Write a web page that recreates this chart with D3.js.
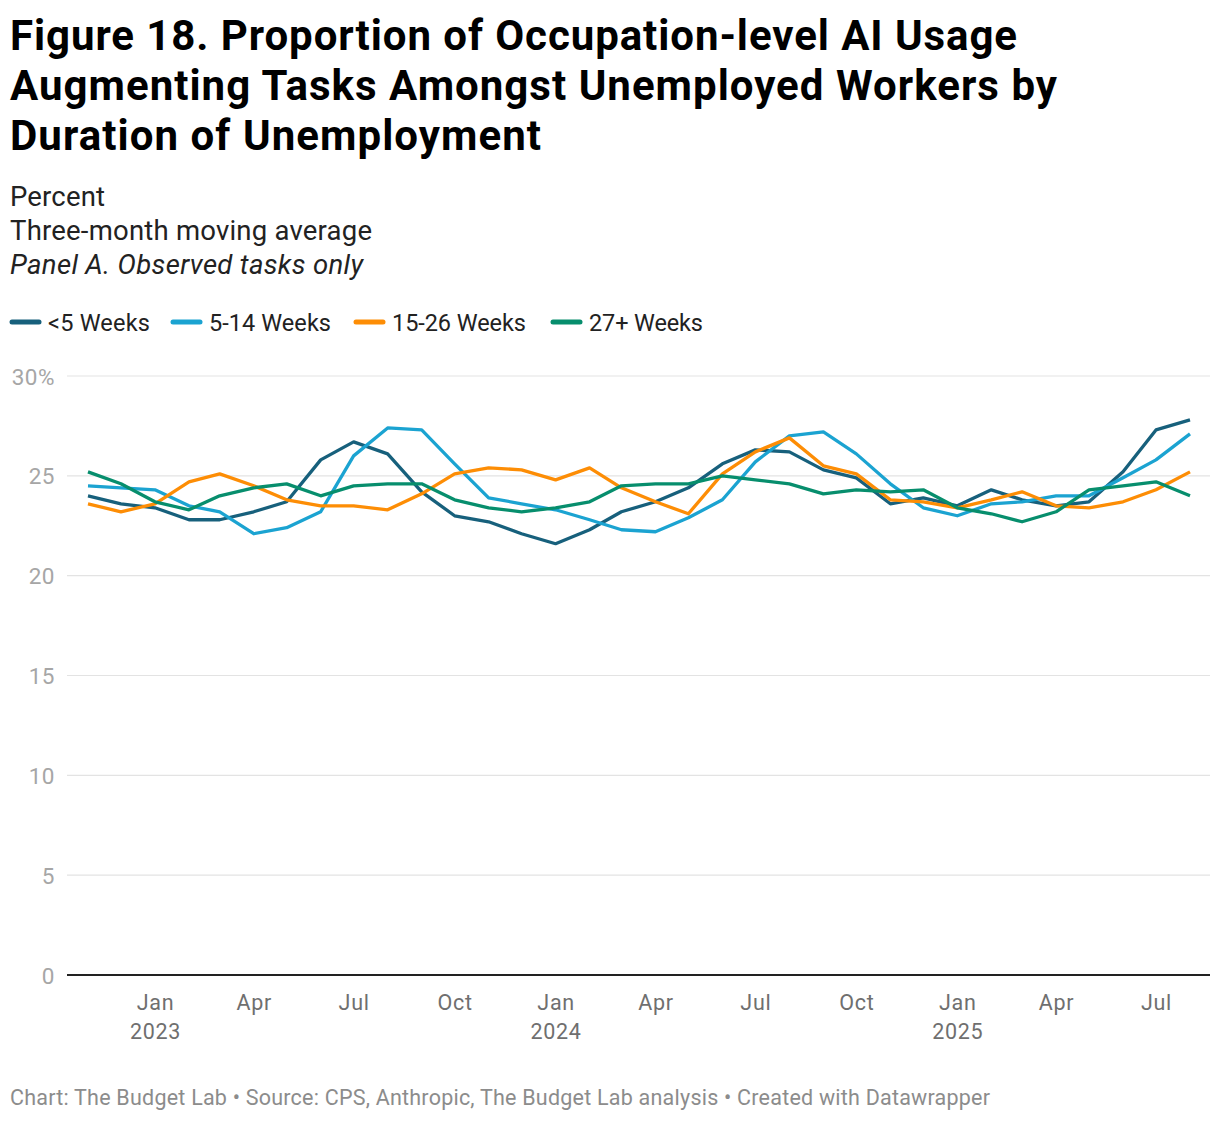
<!DOCTYPE html>
<html>
<head>
<meta charset="utf-8">
<script src="https://cdn.jsdelivr.net/npm/d3@7"></script>
<style>
  body { margin: 0; background: #fff; font-family: Roboto, "Noto Sans", sans-serif; }
  .tick line { display: none; }
  .domain { display: none; }
</style>
</head>
<body>
<div id="chart"></div>
<script>
// data (three-month moving average, percent)
var months = ["2022-11","2022-12","2023-01","2023-02","2023-03","2023-04","2023-05","2023-06",
  "2023-07","2023-08","2023-09","2023-10","2023-11","2023-12","2024-01","2024-02","2024-03",
  "2024-04","2024-05","2024-06","2024-07","2024-08","2024-09","2024-10","2024-11","2024-12",
  "2025-01","2025-02","2025-03","2025-04","2025-05","2025-06","2025-07","2025-08"];

var under5 = [24.0,23.6,23.4,22.8,22.8,23.2,23.7,25.8,26.7,26.1,24.2,23.0,22.7,22.1,21.6,22.3,
  23.2,23.7,24.4,25.6,26.3,26.2,25.3,24.9,23.6,23.9,23.5,24.3,23.8,23.5,23.7,25.2,27.3,27.8];
var w5to14 = [24.5,24.4,24.3,23.5,23.2,22.1,22.4,23.2,26.0,27.4,27.3,25.6,23.9,23.6,23.3,22.8,
  22.3,22.2,22.9,23.8,25.7,27.0,27.2,26.1,24.6,23.4,23.0,23.6,23.7,24.0,24.0,24.9,25.8,27.1];
var w15to26 = [23.6,23.2,23.6,24.7,25.1,24.5,23.8,23.5,23.5,23.3,24.1,25.1,25.4,25.3,24.8,25.4,
  24.4,23.7,23.1,25.1,26.2,26.9,25.5,25.1,23.8,23.7,23.4,23.8,24.2,23.5,23.4,23.7,24.3,25.2];
var w27plus = [25.2,24.6,23.7,23.3,24.0,24.4,24.6,24.0,24.5,24.6,24.6,23.8,23.4,23.2,23.4,23.7,
  24.5,24.6,24.6,25.0,24.8,24.6,24.1,24.3,24.2,24.3,23.4,23.1,22.7,23.2,24.3,24.5,24.7,24.0];

var seriesNames = ["<5 Weeks", "5-14 Weeks", "15-26 Weeks", "27+ Weeks"];
var seriesValues = [under5, w5to14, w15to26, w27plus];
var colors = ["#17607c", "#1ba3d1", "#fd8d05", "#078e6d"];

var yTicks = [0, 5, 10, 15, 20, 25, 30];

var svgWidth = 1220;
var svgHeight = 1122;

var svg = d3.select("#chart")
  .append("svg")
  .attr("width", svgWidth)
  .attr("height", svgHeight);

// title block (text widths matched to the reference with textLength)
var titleLines = ["Figure 18. Proportion of Occupation-level AI Usage",
  "Augmenting Tasks Amongst Unemployed Workers by",
  "Duration of Unemployment"];
var titleWidths = [1007, 1047, 531];
svg.selectAll("text.title")
  .data(titleLines)
  .enter()
  .append("text")
  .attr("class", "title")
  .attr("x", 10)
  .attr("y", (d, i) => 50 + i * 50)
  .attr("textLength", (d, i) => titleWidths[i])
  .attr("lengthAdjust", "spacing")
  .style("font-size", "42px")
  .style("font-weight", "700")
  .style("fill", "#000")
  .text(d => d);

var subLines = ["Percent", "Three-month moving average", "Panel A. Observed tasks only"];
var subWidths = [95, 362, 353];
svg.selectAll("text.sub")
  .data(subLines)
  .enter()
  .append("text")
  .attr("class", "sub")
  .attr("x", 10)
  .attr("y", (d, i) => 206 + i * 34)
  .attr("textLength", (d, i) => subWidths[i])
  .attr("lengthAdjust", "spacing")
  .style("font-size", "27.5px")
  .style("font-style", (d, i) => i === 2 ? "italic" : "normal")
  .style("fill", "#222")
  .text(d => d);

// legend
var legendStarts = [10, 171, 354, 551];
var legendWidths = [102, 122, 134, 114];
var legend = svg.append("g").attr("transform", "translate(0, 322)");
seriesNames.forEach(function(name, i) {
  var g = legend.append("g").attr("transform", `translate(${legendStarts[i]}, 0)`);
  g.append("line")
    .attr("x1", 2).attr("x2", 29)
    .attr("y1", 0).attr("y2", 0)
    .attr("stroke", colors[i])
    .attr("stroke-width", 5)
    .attr("stroke-linecap", "round");
  g.append("text")
    .attr("x", 38)
    .attr("y", 8.5)
    .attr("textLength", legendWidths[i])
    .attr("lengthAdjust", "spacing")
    .style("font-size", "23.5px")
    .style("fill", "#222")
    .text(name);
});

// chart area
var plotLeft = 67, plotRight = 1210, plotTop = 376, plotBottom = 975;

var parse = d3.timeParse("%Y-%m");
var dates = months.map(parse);

var xScale = d3.scaleTime()
  .domain([dates[0], dates[dates.length - 1]])
  .range([88, 1190]);

var yScale = d3.scaleLinear()
  .domain([0, 30])
  .range([plotBottom, plotTop]);

// gridlines
svg.append("g")
  .selectAll("line")
  .data(yTicks.filter(d => d > 0))
  .enter()
  .append("line")
  .attr("x1", plotLeft)
  .attr("x2", plotRight)
  .attr("y1", d => yScale(d))
  .attr("y2", d => yScale(d))
  .attr("stroke", "#e3e3e3")
  .attr("stroke-width", 1.2);

// y axis labels
var leftAxis = d3.axisLeft(yScale)
  .tickValues(yTicks)
  .tickSize(0)
  .tickPadding(0)
  .tickFormat(d => d === 30 ? "30%" : d);
svg.append("g")
  .attr("transform", "translate(55, 0)")
  .call(leftAxis)
  .selectAll("text")
  .attr("dy", "0.36em")
  .style("font-size", "22.5px")
  .style("letter-spacing", "0.5px")
  .style("font-family", "Roboto, sans-serif")
  .style("fill", "#a6a6a6");

// x axis
var xTicks = [];
[2023, 2024, 2025].forEach(function(y) {
  [0, 3, 6, 9].forEach(function(m) {
    var d = new Date(y, m, 1);
    if (d <= dates[dates.length - 1]) xTicks.push(d);
  });
});
var bottomAxis = d3.axisBottom(xScale)
  .tickValues(xTicks)
  .tickSize(0)
  .tickPadding(0)
  .tickFormat(d3.timeFormat("%b"));
var xAxis = svg.append("g")
  .attr("transform", `translate(0, ${plotBottom})`)
  .call(bottomAxis);
xAxis.selectAll("text")
  .attr("y", 35)
  .attr("dy", null)
  .style("font-size", "21.5px")
  .style("letter-spacing", "0.7px")
  .style("font-family", "Roboto, sans-serif")
  .style("fill", "#6f6f6f")
  .each(function(d) {
    if (d.getMonth() === 0) {
      d3.select(this).append("tspan")
        .attr("x", 0)
        .attr("dy", 29)
        .text(d.getFullYear());
    }
  });

// baseline
svg.append("line")
  .attr("x1", plotLeft)
  .attr("x2", plotRight)
  .attr("y1", plotBottom)
  .attr("y2", plotBottom)
  .attr("stroke", "#222")
  .attr("stroke-width", 2);

// lines
var line = d3.line()
  .x((d, i) => xScale(dates[i]))
  .y(d => yScale(d));

svg.append("g")
  .selectAll("path")
  .data(seriesValues)
  .enter()
  .append("path")
  .attr("d", d => line(d))
  .attr("fill", "none")
  .attr("stroke", (d, i) => colors[i])
  .attr("stroke-width", 3.3)
  .attr("stroke-linejoin", "round");

// footer
svg.append("text")
  .attr("x", 10)
  .attr("y", 1105)
  .attr("textLength", 980)
  .attr("lengthAdjust", "spacing")
  .style("font-size", "21.5px")
  .style("fill", "#8c8c8c")
  .text("Chart: The Budget Lab \u2022 Source: CPS, Anthropic, The Budget Lab analysis \u2022 Created with Datawrapper");
</script>
</body>
</html>
